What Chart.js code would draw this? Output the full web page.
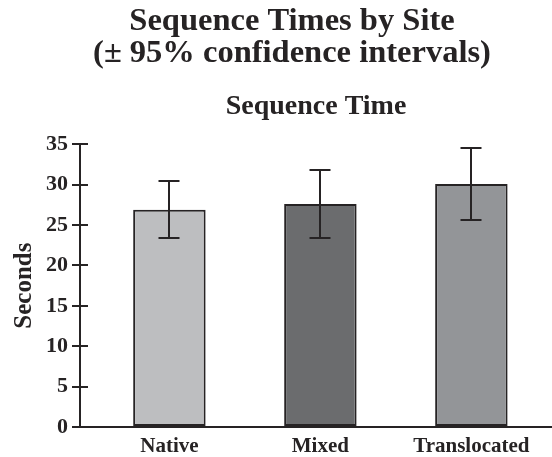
<!DOCTYPE html>
<html>
<head>
<meta charset="utf-8">
<script src="https://cdn.jsdelivr.net/npm/chart.js@4"></script>
<style>
  body { margin: 0; background: #fff; }
</style>
</head>
<body>
<canvas id="siteChart" width="552" height="457"></canvas>
<script>
const sites = ['Native', 'Mixed', 'Translocated'];
const meanTimes = [26.9, 27.6, 30.1];
const ciLow = [23.4, 23.4, 25.6];
const ciHigh = [30.4, 31.8, 34.6];
const barColors = ['#bdbec0', '#6b6c6e', '#939598'];
const yTicks = [0, 5, 10, 15, 20, 25, 30, 35];

const ink = '#262324';
const serif = "'Liberation Serif', 'Times New Roman', serif";
Chart.defaults.font.family = serif;

// error bars, plus the half of each y tick that sits inside the plot
const extras = {
  id: 'extras',
  afterDatasetsDraw(chart) {
    const ctx = chart.ctx;
    const x = chart.scales.x, y = chart.scales.y;
    ctx.save();
    ctx.strokeStyle = ink;
    ctx.lineWidth = 2;
    sites.forEach((s, i) => {
      const cx = Math.round(x.getPixelForValue(i));
      const top = Math.round(y.getPixelForValue(ciHigh[i]));
      const bot = Math.round(y.getPixelForValue(ciLow[i]));
      ctx.beginPath();
      ctx.moveTo(cx, top); ctx.lineTo(cx, bot);
      ctx.moveTo(cx - 10.5, top); ctx.lineTo(cx + 10.5, top);
      ctx.moveTo(cx - 10.5, bot); ctx.lineTo(cx + 10.5, bot);
      ctx.stroke();
    });
    const left = chart.chartArea.left;
    yTicks.forEach(v => {
      const py = Math.round(y.getPixelForValue(v));
      ctx.beginPath();
      ctx.moveTo(left, py); ctx.lineTo(left + 8, py);
      ctx.stroke();
    });
    ctx.restore();
  }
};

new Chart(document.getElementById('siteChart'), {
  type: 'bar',
  data: {
    datasets: [{
      data: sites.map((s, i) => ({ x: i, y: meanTimes[i] })),
      backgroundColor: barColors,
      borderColor: ink,
      borderWidth: 2,
      borderSkipped: false,
      categoryPercentage: 1,
      barPercentage: 0.48
    }]
  },
  options: {
    responsive: false,
    animation: false,
    layout: { padding: { left: 32, right: 0, top: 0, bottom: 0 } },
    plugins: {
      legend: { display: false },
      tooltip: { enabled: false },
      title: {
        display: true,
        text: ['Sequence Times by Site', '(± 95% confidence intervals)'],
        color: ink,
        font: { family: serif, size: 32.5, weight: 'bold', lineHeight: 1 },
        padding: { top: 5, bottom: 8 }
      },
      subtitle: {
        display: true,
        fullSize: false,
        text: 'Sequence Time',
        color: ink,
        font: { family: serif, size: 28, weight: 'bold', lineHeight: 1 },
        padding: { top: 14.5, bottom: 23.8 }
      }
    },
    scales: {
      x: {
        type: 'linear',
        min: -0.592,
        max: 2.534,
        offset: false,
        afterBuildTicks: s => { s.ticks = sites.map((_, i) => ({ value: i })); },
        afterFit: s => { s.height = 30; },
        grid: { display: false, offset: false },
        border: { color: ink, width: 2 },
        ticks: {
          callback: v => sites[v],
          color: ink,
          padding: -1,
          autoSkip: false,
          maxRotation: 0,
          font: { family: serif, size: 21, weight: 'bold' }
        }
      },
      y: {
        min: 0,
        max: 35,
        afterBuildTicks: s => { s.ticks = yTicks.map(v => ({ value: v })); },
        afterFit: s => { s.width = 48; },
        grid: { drawOnChartArea: false, color: ink, lineWidth: 2, tickLength: 8 },
        border: { color: ink, width: 2 },
        ticks: {
          color: ink,
          padding: 4,
          font: { family: serif, size: 22, weight: 'bold' }
        },
        title: {
          display: true,
          text: 'Seconds',
          color: ink,
          font: { family: serif, size: 25, weight: 'bold', lineHeight: 1 },
          padding: { top: -19.5, bottom: 0 }
        }
      }
    }
  },
  plugins: [extras]
});
</script>
</body>
</html>
